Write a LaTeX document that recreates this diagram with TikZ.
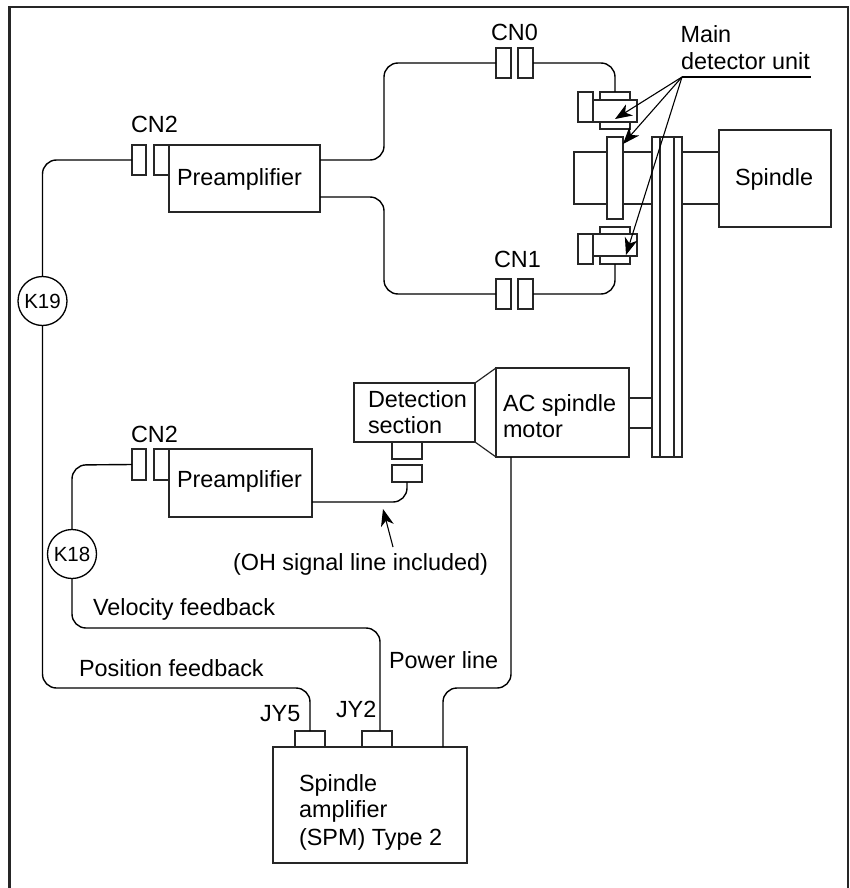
\documentclass[tikz,border=0pt]{standalone}
\usepackage{fontspec}
\setmainfont{Liberation Sans}
\usetikzlibrary{arrows.meta}
\tikzset{
  part/.style={draw=black!85,fill=white,line width=1.2pt,inner sep=0pt,outer sep=0pt,rectangle},
  wire/.style={draw=black,line width=1.4pt,rounded corners=14pt},
  edge line/.style={draw=black!85,line width=1.2pt},
  frameline/.style={draw=black!85,line width=2.2pt},
  leader/.style={draw=black,line width=1.1pt,-{Stealth[length=17pt,width=13pt,inset=5pt]}},
  lab/.style={anchor=base west,inner sep=0pt,outer sep=0pt,font=\fontsize{23.4}{28}\selectfont},
  cable mark/.style={draw=black,fill=white,line width=1.3pt,circle,minimum size=49pt,inner sep=0pt,outer sep=0pt,font=\fontsize{20.5}{24}\selectfont}
}
\newcommand{\partnode}[6]{\node[part,minimum width=#4pt,minimum height=#5pt] (#1) at (#2,#3) {#6};}
\begin{document}
\begin{tikzpicture}[x=1pt,y=-1pt]
\useasboundingbox (0,0) rectangle (850,888);
\fill[white] (0,0) rectangle (850,888);
% frame (no bottom edge)
\coordinate (fa) at (9.5,889); \coordinate (fb) at (9.5,7);
\coordinate (fc) at (848,7); \coordinate (fd) at (848,889);
\draw[frameline] (fa) -- (fb) -- (fc) -- (fd);

% shaft and belt
\partnode{shaft}{613}{178}{78}{52}{}
\partnode{belt}{667}{297}{30}{320}{}
\coordinate (beltaT) at (660,137); \coordinate (beltaB) at (660,457);
\coordinate (beltbT) at (674,137); \coordinate (beltbB) at (674,457);
\draw[edge line] (beltaT) -- (beltaB);
\draw[edge line] (beltbT) -- (beltbB);
\partnode{disk}{615}{178}{16}{82}{}
\partnode{spindle}{775}{178.5}{112}{97}{}
\draw[edge line] ([yshift=26pt]belt.east |- shaft.east) -- ([yshift=26pt]spindle.west |- shaft.east);
\draw[edge line] ([yshift=-26pt]belt.east |- shaft.east) -- ([yshift=-26pt]spindle.west |- shaft.east);

% upper sensor
\partnode{sat}{615}{96}{30}{8}{}
\partnode{sab}{615}{125.5}{30}{7}{}
\partnode{sam}{615}{111}{44}{22}{}
\partnode{sal}{585.5}{107}{15}{30}{}
% lower sensor
\partnode{sbt}{615}{230.5}{30}{7}{}
\partnode{sbb}{615}{260}{30}{8}{}
\partnode{sbm}{615}{245}{44}{22}{}
\partnode{sbl}{585.5}{249}{15}{30}{}

% connectors
\partnode{cnza}{503.5}{63}{15}{30}{}
\partnode{cnzb}{525.5}{63}{15}{30}{}
\partnode{cnoa}{503.5}{294}{15}{30}{}
\partnode{cnob}{525.5}{294}{15}{30}{}
\partnode{cta}{139}{160}{14}{30}{}
\partnode{ctb}{161.5}{160}{15}{30}{}
\partnode{cla}{139}{464.5}{14}{31}{}
\partnode{clb}{161.5}{464.5}{15}{31}{}

% boxes
\partnode{preA}{244.5}{178.5}{151}{67}{}
\partnode{preB}{240.5}{483}{143}{68}{}
\partnode{det}{414.5}{412.5}{121}{59}{}
\partnode{motor}{562.5}{412.5}{133}{89}{}
\partnode{dca}{407}{450.5}{30}{17}{}
\partnode{dcb}{407}{473.5}{30}{17}{}
\partnode{amp}{370}{805}{194}{116}{}
\partnode{jyf}{310}{739}{30}{16}{}
\partnode{jyt}{377}{739}{30}{16}{}
\draw[edge line] (det.north east) -- (motor.north west);
\draw[edge line] (det.south east) -- (motor.south west);
\coordinate (msa) at (652,398); \coordinate (msb) at (652,428);
\draw[edge line] (motor.east |- msa) -- (msa);
\draw[edge line] (motor.east |- msb) -- (msb);

% cable marks
\node[cable mark] (kn) at (42.5,301) {K19};
\node[cable mark] (ke) at (72,554) {K18};

% wires
\coordinate (wa) at (384,160); \coordinate (wb) at (384,63);
\coordinate (wc) at (384,197); \coordinate (wd) at (384,294);
\coordinate (we) at (615,63); \coordinate (wf) at (615,294);
\draw[wire] ([yshift=18.5pt]preA.east) -- (wa) -- (wb) -- (cnza.west);
\draw[wire] ([yshift=-18.5pt]preA.east) -- (wc) -- (wd) -- (cnoa.west);
\draw[wire] (cnzb.east) -- (we) -- (sat.north);
\draw[wire] (cnob.east) -- (wf) -- (sbb.south);
\coordinate (wg) at (42.5,160); \coordinate (wh) at (42.5,688); \coordinate (wi) at (310,688);
\draw[wire] (cta.west) -- (wg) -- (kn.north);
\draw[wire] (kn.south) -- (wh) -- (wi) -- (jyf.north);
\coordinate (wj) at (72,465); \coordinate (wk) at (72,628); \coordinate (wl) at (380,628);
\draw[wire] (cla.west) -- (wj) -- (ke.north);
\draw[wire] (ke.south) -- (wk) -- (wl) -- ([xshift=3pt]jyt.north);
\coordinate (wm) at (407,502);
\draw[wire] ([yshift=-19pt]preB.east) -- (wm) -- (dcb.south);
\coordinate (wn) at (511,688); \coordinate (wo) at (443,688);
\draw[wire] ([xshift=-51.5pt]motor.south) -- (wn) -- (wo) -- ([xshift=73pt]amp.north);

% labels
\node[lab] (tcnz) at (491,41) {CN0};
\node[lab] (tcno) at (494,267) {CN1};
\node[lab] (tctw) at (131,132) {CN2};
\node[lab] (tclw) at (131,442) {CN2};
\node[lab] (tmain) at (680.5,43) {Main};
\node[lab] (tdet) at (681,70) {detector unit};
\node[lab] (tspin) at (735,185) {Spindle};
\node[lab] (tpa) at (177,185) {Preamplifier};
\node[lab] (tpb) at (177,487) {Preamplifier};
\node[lab] (tdea) at (368,407) {Detection};
\node[lab] (tdeb) at (368,433) {section};
\node[lab] (tmoa) at (503,411) {AC spindle};
\node[lab] (tmob) at (503,437) {motor};
\node[lab] (toh) at (233,570) {(OH signal line included)};
\node[lab] (tvel) at (93,615) {Velocity feedback};
\node[lab] (tpos) at (79,676) {Position feedback};
\node[lab] (tpow) at (389,668) {Power line};
\node[lab] (tjf) at (260,721) {JY5};
\node[lab] (tjt) at (336,717) {JY2};
\node[lab] (tama) at (299,791) {Spindle};
\node[lab] (tamb) at (299,817) {amplifier};
\node[lab] (tamc) at (299,845) {(SPM) Type 2};

% leaders
\coordinate (ldr) at (682,77); \coordinate (ldrend) at (811,77);
\draw[draw=black,line width=1.1pt] (ldr) -- (ldrend);
\coordinate (tipa) at (615,119); \coordinate (tipb) at (623,144); \coordinate (tipc) at (626,255);
\draw[leader] (ldr) -- (tipa);
\draw[leader] (ldr) -- (tipb);
\draw[leader] (ldr) -- (tipc);
\coordinate (ohs) at (393,547); \coordinate (oht) at (383,509);
\draw[leader] (ohs) -- (oht);
\end{tikzpicture}
\end{document}
